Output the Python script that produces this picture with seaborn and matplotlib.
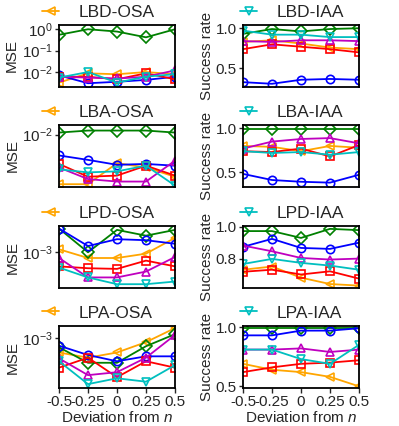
import numpy as np
import pandas as pd
import matplotlib
matplotlib.use('Agg')
import matplotlib.pyplot as plt
from matplotlib.ticker import FixedLocator, FixedFormatter, NullLocator
import seaborn as sns

sns.set_style('ticks')
plt.rcParams['font.family'] = ['Liberation Sans', 'DejaVu Sans']
plt.rcParams['mathtext.fontset'] = 'custom'
plt.rcParams['mathtext.rm'] = 'Liberation Sans'
plt.rcParams['mathtext.it'] = 'Liberation Sans:italic'

deviation = [-0.5, -0.25, 0, 0.25, 0.5]
xtick_labels = ['-0.5', '-0.25', '0', '0.25', '0.5']

# series order: orange(<), green(D), blue(o), red(s), magenta(^), cyan(v)
series_colors = ['orange', 'green', 'blue', 'red', 'm', 'c']
series_markers = ['<', 'D', 'o', 's', '^', 'v']

# ---- MSE (left column) ----
lbd_osa = [
    [0.0032, 0.0087, 0.0079, 0.0100, 0.0079],
    [0.55, 1.0, 0.78, 0.42, 1.0],
    [0.0070, 0.0030, 0.0035, 0.0043, 0.0060],
    [0.0060, 0.0060, 0.0046, 0.0087, 0.0046],
    [0.0060, 0.0055, 0.0050, 0.0060, 0.0120],
    [0.0055, 0.0100, 0.0032, 0.0061, 0.0079],
]
lba_osa = [
    [0.0032, 0.0032, 0.0052, 0.0047, 0.0038],
    [0.0105, 0.0110, 0.0110, 0.0110, 0.0105],
    [0.0062, 0.0056, 0.0050, 0.0051, 0.0049],
    [0.0051, 0.0038, 0.0039, 0.0049, 0.0039],
    [0.0047, 0.0036, 0.0034, 0.0034, 0.0055],
    [0.0045, 0.0042, 0.0043, 0.0049, 0.0031],
]
lpd_osa = [
    [0.00107, 0.00088, 0.00088, 0.00097, 0.00138],
    [0.00170, 0.00100, 0.00165, 0.00145, 0.00165],
    [0.00170, 0.00115, 0.00134, 0.00131, 0.00121],
    [0.00073, 0.00070, 0.00069, 0.00083, 0.00073],
    [0.00088, 0.00057, 0.00057, 0.00065, 0.00090],
    [0.00071, 0.00057, 0.00049, 0.00049, 0.00052],
]
lpa_osa = [
    [0.00073, 0.00065, 0.00073, 0.00092, 0.00126],
    [0.00082, 0.00058, 0.00058, 0.00084, 0.00110],
    [0.00085, 0.00069, 0.00060, 0.00067, 0.00067],
    [0.00052, 0.00065, 0.00042, 0.00060, 0.00052],
    [0.00064, 0.00044, 0.00047, 0.00065, 0.00108],
    [0.00060, 0.00036, 0.00041, 0.00038, 0.00055],
]

# ---- Success rate (right column) ----
lbd_iaa = [
    [0.83, 0.85, 0.81, 0.76, 0.74],
    [0.93, 0.99, 0.96, 0.99, 1.00],
    [0.33, 0.31, 0.36, 0.37, 0.36],
    [0.74, 0.80, 0.77, 0.74, 0.70],
    [0.84, 0.83, 0.85, 0.85, 0.84],
    [0.97, 0.92, 0.92, 0.89, 0.89],
]
lba_iaa = [
    [0.80, 0.79, 0.74, 0.80, 0.78],
    [0.995, 0.995, 0.995, 0.995, 0.995],
    [0.48, 0.41, 0.39, 0.38, 0.47],
    [0.74, 0.73, 0.77, 0.68, 0.81],
    [0.77, 0.85, 0.88, 0.89, 0.83],
    [0.74, 0.72, 0.73, 0.70, 0.73],
]
lpd_iaa = [
    [0.73, 0.75, 0.68, 0.64, 0.63],
    [0.973, 0.973, 0.93, 0.987, 0.979],
    [0.874, 0.924, 0.867, 0.861, 0.90],
    [0.717, 0.73, 0.70, 0.72, 0.674],
    [0.882, 0.846, 0.804, 0.794, 0.80],
    [0.766, 0.798, 0.773, 0.756, 0.73],
]
lpa_iaa = [
    [0.69, 0.64, 0.62, 0.58, 0.50],
    [0.99, 0.99, 0.99, 0.99, 0.99],
    [0.93, 0.93, 0.97, 0.97, 0.99],
    [0.62, 0.66, 0.69, 0.70, 0.72],
    [0.81, 0.81, 0.82, 0.79, 0.81],
    [0.81, 0.81, 0.73, 0.69, 0.85],
]

panels = [
    ('LBD-OSA', lbd_osa, 'log', (0.002, 1.58), [1.0, 0.1, 0.01], ['$10^{0}$', '$10^{-1}$', '$10^{-2}$']),
    ('LBD-IAA', lbd_iaa, 'linear', (0.27, 1.04), [0.5, 1.0], ['0.5', '1.0']),
    ('LBA-OSA', lba_osa, 'log', (0.003, 0.0125), [0.01], ['$10^{-2}$']),
    ('LBA-IAA', lba_iaa, 'linear', (0.33, 1.04), [0.5, 1.0], ['0.5', '1.0']),
    ('LPD-OSA', lpd_osa, 'log', (0.00045, 0.0018), [0.001], ['$10^{-3}$']),
    ('LPD-IAA', lpd_iaa, 'linear', (0.615, 1.005), [0.8, 1.0], ['0.8', '1.0']),
    ('LPA-OSA', lpa_osa, 'log', (0.00033, 0.00132), [0.001], ['$10^{-3}$']),
    ('LPA-IAA', lpa_iaa, 'linear', (0.486, 1.009), [0.5, 1.0], ['0.5', '1.0']),
]

W, H = 399, 426
fig = plt.figure(figsize=(W / 100, H / 100), dpi=100)
col_left = [59, 243]
ax_w = 116
row_top = [25, 125, 226, 326]
ax_h = 62

axes = []
for i, (name, series, scale, ylim, yticks, ylabels) in enumerate(panels):
    r, c = divmod(i, 2)
    ax = fig.add_axes([col_left[c] / W, 1 - (row_top[r] + ax_h) / H, ax_w / W, ax_h / H])
    handles = []
    for vals, col, mk in zip(series, series_colors, series_markers):
        df = pd.DataFrame({'x': deviation, 'y': vals})
        sns.lineplot(data=df, x='x', y='y', ax=ax, color=col, marker=mk,
                     markersize=6, markerfacecolor='none', markeredgecolor=col,
                     markeredgewidth=1.2, linewidth=1.3)
        handles.append(ax.lines[-1])
    ax.set_yscale(scale)
    ax.set_xlim(-0.5, 0.5)
    ax.set_ylim(*ylim)
    ax.set_xticks(deviation)
    if r == 3:
        ax.set_xticklabels(xtick_labels)
        ax.set_xlabel('Deviation from $n$', fontsize=11, labelpad=1)
    else:
        ax.set_xticklabels([])
        ax.tick_params(axis='x', length=0)
        ax.set_xlabel('')
    if scale == 'log':
        ax.set_ylabel('MSE', fontsize=11, labelpad=2)
    else:
        ax.set_ylabel('Success rate', fontsize=11, labelpad=1)
    for sp in ax.spines.values():
        sp.set_linewidth(1.3)
        sp.set_color('black')
    hl = handles[0] if c == 0 else handles[5]
    leg_x = 42 / W if c == 0 else 240 / W
    leg_y = 1 - (row_top[r] - 13) / H
    ax.legend([hl], [name], loc='center left', bbox_to_anchor=(leg_x, leg_y),
              bbox_transform=fig.transFigure, frameon=False, fontsize=12.5,
              handlelength=1.0, handletextpad=1.1, borderpad=0, borderaxespad=0)
    axes.append(ax)

# y ticks set last, after all plotting
for ax, (name, series, scale, ylim, yticks, ylabels) in zip(axes, panels):
    ax.yaxis.set_major_locator(FixedLocator(yticks))
    ax.yaxis.set_major_formatter(FixedFormatter(ylabels))
    ax.yaxis.set_minor_locator(NullLocator())
    ax.tick_params(axis='both', labelsize=11, width=1, pad=1.5)
    ax.tick_params(axis='y', length=3)
    ax.set_ylim(*ylim)

fig.savefig('out.png', dpi=100)
